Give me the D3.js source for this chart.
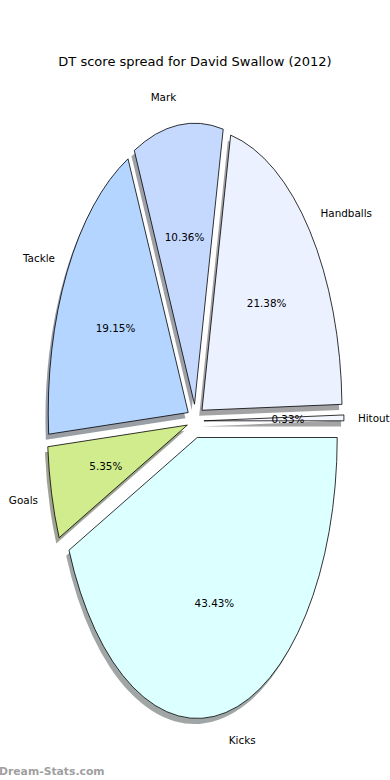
<!DOCTYPE html>
<html>
<head>
<meta charset="utf-8">
<script src="https://cdn.jsdelivr.net/npm/d3@7"></script>
<style>
  body { margin: 0; background: #fff; }
  text { font-family: "DejaVu Sans", sans-serif; }
</style>
</head>
<body>
<div id="wrapper"></div>
<script>
// Data
const labels = ["Hitout", "Handballs", "Mark", "Tackle", "Goals", "Kicks"];
const values = [0.33, 21.38, 10.36, 19.15, 5.35, 43.43];
const colors = ["#f4f6ff", "#ebf1ff", "#c5d9ff", "#b3d5ff", "#d1ec8d", "#dcffff"];
const explode = [0.06, 0.06, 0.06, 0.06, 0.06, 0.06];
const title = "DT score spread for David Swallow (2012)";

const drawChart = () => {
    const dimensions = { width: 390, height: 780 };

    const wrapper = d3.select("#wrapper")
        .append("svg")
        .attr("width", dimensions.width)
        .attr("height", dimensions.height);

    // Scales (pie is stretched, axes not equal)
    const cx = 195.5, cy = 421, rx = 140, ry = 281;
    const xScale = d3.scaleLinear().domain([-1, 1]).range([cx - rx, cx + rx]);
    const yScale = d3.scaleLinear().domain([-1, 1]).range([cy + ry, cy - ry]);
    const sx = xScale(1) - xScale(0);
    const sy = yScale(0) - yScale(1);

    // Slices, counterclockwise from east like matplotlib
    const pie = d3.pie().sort(null).value(d => d.value);
    const data = labels.map((l, i) => ({ label: l, value: values[i], color: colors[i], explode: explode[i] }));
    const arcs = pie(data).map(a => {
        const t0 = a.startAngle, t1 = a.endAngle;
        const tm = (t0 + t1) / 2;
        return {
            ...a,
            t0, t1, tm,
            ox: a.data.explode * Math.cos(tm),
            oy: a.data.explode * Math.sin(tm),
        };
    });

    // d3.arc: angle 0 at 12 o'clock clockwise -> convert
    const arcGen = d3.arc()
        .innerRadius(0)
        .outerRadius(1)
        .startAngle(d => Math.PI / 2 - d.t1)
        .endAngle(d => Math.PI / 2 - d.t0);

    const bounds = wrapper.append("g");

    // Shadows
    bounds.append("g").selectAll("path")
        .data(arcs)
        .join("path")
        .attr("transform", d => `translate(${xScale(d.ox - 0.02)},${yScale(d.oy - 0.02)}) scale(${sx},${sy})`)
        .attr("d", arcGen)
        .attr("fill", d => {
            const c = d3.rgb(d.data.color);
            return d3.rgb(c.r * 0.3, c.g * 0.3, c.b * 0.3);
        })
        .attr("fill-opacity", 0.5);

    // Wedges
    bounds.append("g").selectAll("path")
        .data(arcs)
        .join("path")
        .attr("transform", d => `translate(${xScale(d.ox)},${yScale(d.oy)}) scale(${sx},${sy})`)
        .attr("d", arcGen)
        .attr("fill", d => d.data.color)
        .attr("stroke", "#000")
        .attr("stroke-width", 0.8)
        .attr("stroke-linejoin", "miter")
        .attr("vector-effect", "non-scaling-stroke");

    // Labels
    bounds.append("g").selectAll("text")
        .data(arcs)
        .join("text")
        .attr("x", d => xScale(d.ox + 1.1 * Math.cos(d.tm)))
        .attr("y", d => yScale(d.oy + 1.1 * Math.sin(d.tm)))
        .attr("text-anchor", d => (d.ox + 1.1 * Math.cos(d.tm)) > 0 ? "start" : "end")
        .attr("dominant-baseline", "central")
        .style("font-size", "10.4px")
        .attr("fill", "#000")
        .text(d => d.data.label);

    // Percentages
    bounds.append("g").selectAll("text")
        .data(arcs)
        .join("text")
        .attr("x", d => xScale(d.ox + 0.6 * Math.cos(d.tm)))
        .attr("y", d => yScale(d.oy + 0.6 * Math.sin(d.tm)))
        .attr("text-anchor", "middle")
        .attr("dominant-baseline", "central")
        .style("font-size", "10.4px")
        .attr("fill", "#000")
        .text(d => d.data.value.toFixed(2) + "%");

    // Title
    wrapper.append("text")
        .attr("x", 195)
        .attr("y", 61)
        .attr("text-anchor", "middle")
        .attr("dominant-baseline", "central")
        .style("font-size", "13px")
        .text(title);

    // Watermark
    wrapper.append("text")
        .attr("x", -1)
        .attr("y", 775)
        .style("font-size", "10.8px")
        .style("font-weight", "bold")
        .attr("fill", "#a0a0a0")
        .text("Dream-Stats.com");
};
drawChart();
</script>
</body>
</html>
